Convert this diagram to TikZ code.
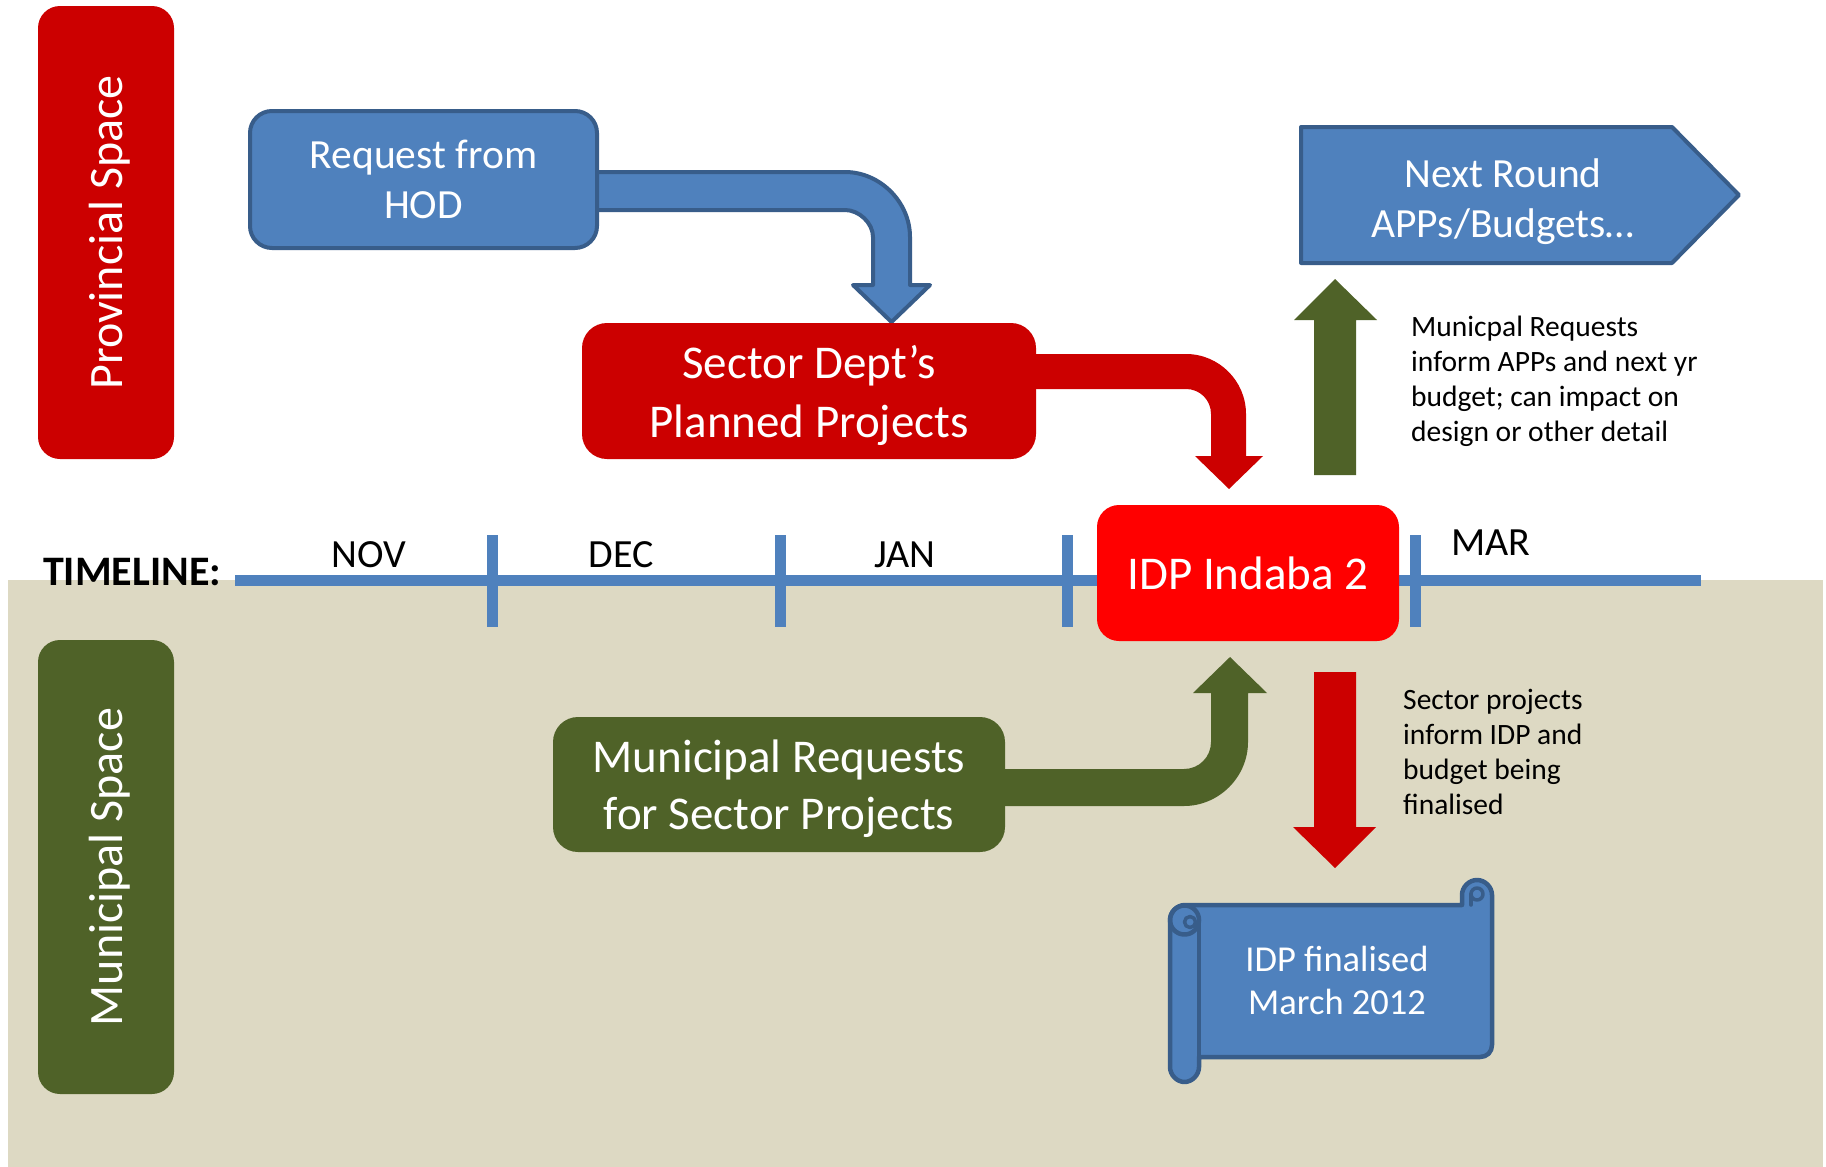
\documentclass[tikz,border=0pt]{standalone}
\usepackage{fontspec}
\setmainfont{Carlito}
\newcommand\fsz[2]{\fontsize{#1}{#2}\selectfont}
\definecolor{pblue}{HTML}{4F81BD}
\definecolor{pbluedark}{HTML}{385D8A}
\definecolor{dred}{RGB}{204,0,0}
\definecolor{bred}{RGB}{255,0,0}
\definecolor{olive}{HTML}{4F6228}
\definecolor{beige}{HTML}{DDD9C3}
\begin{document}
\begin{tikzpicture}[x=1pt,y=-1pt,
  box/.style={rounded corners=22pt, inner sep=0pt, text=white, align=center, text depth=0pt},
  month/.style={inner sep=0pt, anchor=base, font=\fsz{40}{48}},
  tmark/.style={draw=pblue, line width=11pt},
  note/.style={inner sep=0pt, anchor=north west, align=left, font=\fsz{29.5}{35}},
  bluearrow/.style={fill=pblue, draw=pbluedark, line width=4pt, line join=round},
  scrollline/.style={draw=pbluedark, line width=4.5pt, line join=round, line cap=round}
]
\useasboundingbox (0,0) rectangle (1826,1167);
\fill[white] (0,0) rectangle (1826,1167);
\fill[beige] (8,580) rectangle (1823,1167);

% side labels
\node[box, rotate=90, fill=dred, minimum width=453pt, minimum height=136pt, font=\fsz{48}{58}] (prov) at (106,232.5) {Provincial Space};
\node[box, rotate=90, fill=olive, minimum width=454pt, minimum height=136pt, font=\fsz{48}{58}] (muni) at (106,867) {Municipal Space};

% timeline
\draw[pblue, line width=11pt] (235,580) -- (1701,580);
\foreach \tx in {492,780,1067,1415} \draw[tmark] (\tx,535) -- (\tx,627);
\node[anchor=base west, inner sep=0pt, font=\bfseries\fsz{42}{50}] (tl) at (43,585) {TIMELINE:};
\node[month] (nov) at (369,567) {NOV};
\node[month] (dec) at (621,567) {DEC};
\node[month] (jan) at (905,567) {JAN};
\node[month] (mar) at (1491,555) {MAR};

% blue bent arrow: Request -> Sector
\filldraw[bluearrow] (590,172) -- (845,172) .. controls (880,172) and (910,202) .. (910,237) -- (910,285) -- (930,285) -- (891.5,322) -- (853,285) -- (873,285) -- (873,237) .. controls (873,223) and (859,210) .. (845,210) -- (590,210) -- cycle;
\node[box, fill=pblue, draw=pbluedark, line width=4pt, minimum width=347pt, minimum height=137pt, font=\fsz{41.5}{50}] (req) at (423.5,179.5) {Request from\\HOD};

% red bent arrow: Sector -> IDP Indaba
\fill[dred] (1020,354) -- (1186,354) .. controls (1219,354) and (1246,381) .. (1246,414) -- (1246,456) -- (1263,456) -- (1229,489) -- (1195,456) -- (1211,456) -- (1211,414) .. controls (1211,400) and (1200,389) .. (1186,389) -- (1020,389) -- cycle;
\node[box, fill=dred, rounded corners=25pt, minimum width=454pt, minimum height=136pt, font=\fsz{47}{59}] (sector) at (809,391) {Sector Dept’s\\Planned Projects};

% green bent arrow: Municipal Requests -> IDP Indaba
\fill[olive] (990,769) -- (1184,769) .. controls (1199,769) and (1211,757) .. (1211,742) -- (1211,693) -- (1193,693) -- (1230,657) -- (1267,693) -- (1248,693) -- (1248,742) .. controls (1248,777) and (1219,806) .. (1184,806) -- (990,806) -- cycle;
\node[box, fill=olive, rounded corners=25pt, minimum width=452pt, minimum height=135pt, font=\fsz{47}{57}] (mreq) at (779,784.5) {Municipal Requests\\for Sector Projects};

% IDP Indaba
\node[box, fill=bred, minimum width=302pt, minimum height=136pt, font=\fsz{47}{57}] (indaba) at (1248,573) {IDP Indaba 2};

% green up arrow
\fill[olive] (1314,475) -- (1314,320) -- (1294,320) -- (1335,279) -- (1377,320) -- (1356,320) -- (1356,475) -- cycle;
% red down arrow
\fill[dred] (1314,672) -- (1356,672) -- (1356,827) -- (1376,827) -- (1335,868) -- (1293,827) -- (1314,827) -- cycle;

% Next round pentagon
\filldraw[bluearrow] (1301,127) -- (1672,127) -- (1739,195) -- (1672,263) -- (1301,263) -- cycle;
\node[inner sep=0pt, text=white, align=center, text depth=0pt, font=\fsz{41.5}{50}] (next) at (1503,198) {Next Round\\APPs/Budgets…};

% notes
\node[note] (note1) at (1411,316) {Municpal Requests\\inform APPs and next yr\\budget; can impact on\\design or other detail};
\node[note] (note2) at (1403,689) {Sector projects\\inform IDP and\\budget being\\finalised};

% scroll
\filldraw[fill=pblue, scrollline]
 (1170,920) .. controls (1170,912) and (1177,905) .. (1185,905)
 -- (1462,905) -- (1462,895) .. controls (1462,887) and (1469,880) .. (1477,880) .. controls (1485,880) and (1492,887) .. (1492,895)
 -- (1492,1045) .. controls (1492,1052) and (1487,1057) .. (1480,1057)
 -- (1199,1057) -- (1199,1067) .. controls (1199,1075) and (1192,1082) .. (1184.5,1082) .. controls (1177,1082) and (1170,1075) .. (1170,1067) -- cycle;
\draw[scrollline] (1199,1057) -- (1199,922);
\draw[scrollline] (1184.5,920) circle[radius=14.5pt];
\draw[scrollline, line width=3.5pt] (1190,922) circle[radius=5.5pt];
\draw[scrollline, line width=3.5pt] (1477,894) circle[radius=6pt];
\draw[scrollline, line width=3.5pt] (1471,894) -- (1471,905);
\node[inner sep=0pt, text=white, align=center, font=\fsz{36.5}{43}] (idpfin) at (1337,980) {IDP finalised\\March 2012};
\end{tikzpicture}
\end{document}
